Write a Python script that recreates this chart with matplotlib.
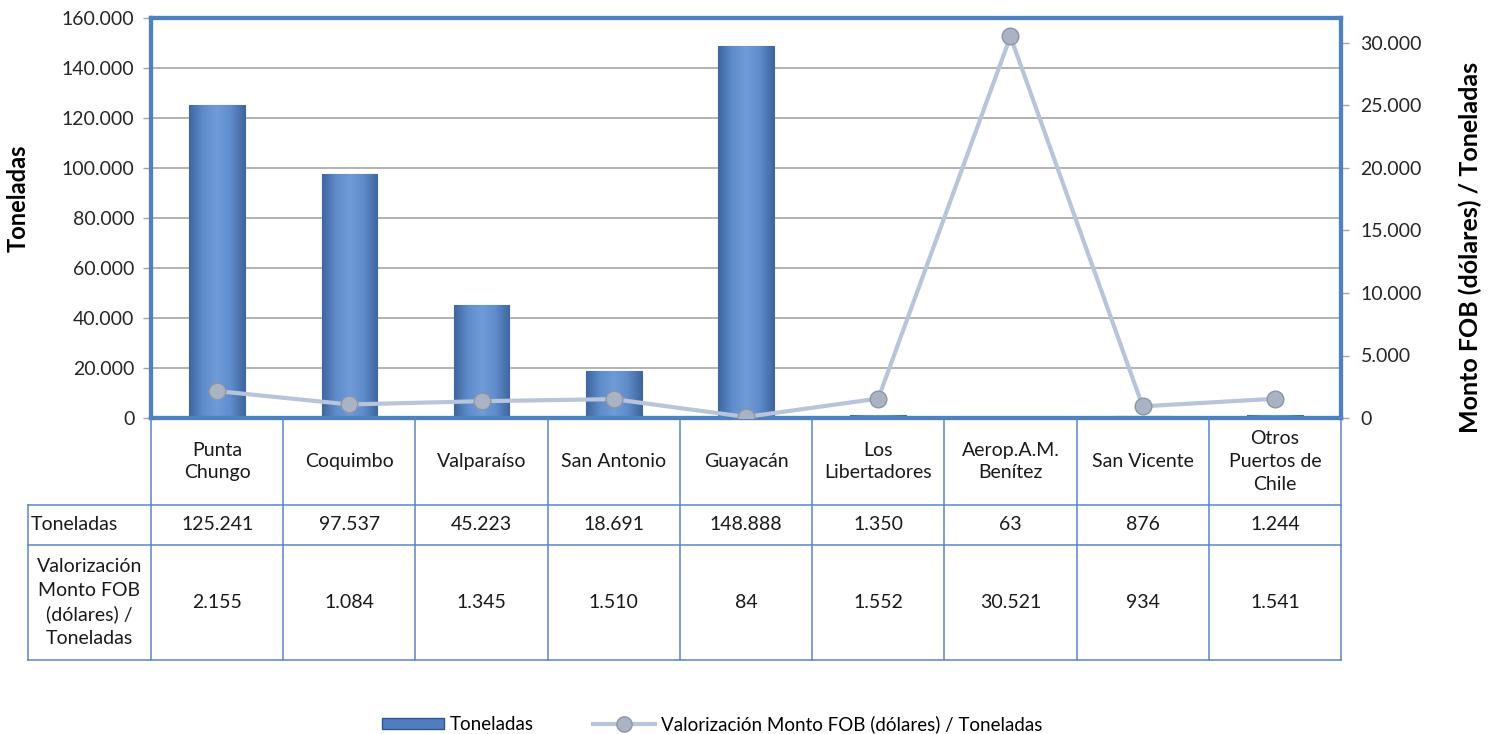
import matplotlib
matplotlib.use("Agg")
import matplotlib.pyplot as plt
import numpy as np
from matplotlib.ticker import FuncFormatter, MultipleLocator
from matplotlib.colors import LinearSegmentedColormap
from matplotlib.lines import Line2D
from matplotlib.patches import Patch

# ---- data ----
categories = ["Punta\nChungo", "Coquimbo", "Valparaíso", "San Antonio", "Guayacán",
              "Los\nLibertadores", "Aerop.A.M.\nBenítez", "San Vicente", "Otros\nPuertos de\nChile"]
toneladas = [125241, 97537, 45223, 18691, 148888, 1350, 63, 876, 1244]
valor_fob = [2155, 1084, 1345, 1510, 84, 1552, 30521, 934, 1541]
row_labels = ["Toneladas", "Valorización\nMonto FOB\n(dólares) /\nToneladas"]
series_bar = "Toneladas"
series_line = "Valorización Monto FOB (dólares) / Toneladas"
left_label = "Toneladas"
right_label = "Monto FOB (dólares) / Toneladas"

plt.rcParams['font.family'] = ['Lato', 'DejaVu Sans']

W, H = 1497, 734
fig = plt.figure(figsize=(W / 100, H / 100), dpi=100)

def px(x0, y0, x1, y1):
    return [x0 / W, 1 - y1 / H, (x1 - x0) / W, (y1 - y0) / H]

BLUE = '#4f81bd'
TXT = '#1a1a1a'
ax = fig.add_axes(px(151, 18, 1341, 418))
n = len(categories)
x = np.arange(n)

def fmt(v, pos=None):
    return f"{int(round(v)):,}".replace(",", ".")

bars = ax.bar(x, toneladas, width=0.42, color='#5a87c6', edgecolor='#3e68a3',
              linewidth=0.8, zorder=2)
cmap = LinearSegmentedColormap.from_list('bev', ['#3f679f', '#5f8ccb', '#6f9bd8', '#5f8ccb', '#3f679f'])
grad = np.linspace(0, 1, 64).reshape(1, -1)
for b in bars:
    x0, y0 = b.get_x(), b.get_y()
    w, h = b.get_width(), b.get_height()
    im = ax.imshow(grad, extent=[x0, x0 + w, y0, y0 + h], aspect='auto', cmap=cmap,
                   zorder=2.1, interpolation='bicubic')
    im.set_clip_path(b)

ax.set_xlim(-0.5, n - 0.5)
ax.set_ylim(0, 160000)
ax.yaxis.set_major_locator(MultipleLocator(20000))
ax.yaxis.set_major_formatter(FuncFormatter(fmt))
ax.set_xticks([])
ax.grid(axis='y', color='#a6a6a6', linewidth=1.2)
ax.set_axisbelow(True)
ax.tick_params(axis='y', labelsize=14, colors='#262626', length=6, width=1, color='#a6a6a6', pad=6)
for s in ax.spines.values():
    s.set_color(BLUE)
    s.set_linewidth(3)
fig.text(18 / W, 1 - 198 / H, left_label, rotation=90, fontsize=17, fontweight='bold',
         ha='center', va='center', color='black')

ax2 = ax.twinx()
ax2.plot(x, valor_fob, color='#b8c4d9', linewidth=3, marker='o', markersize=12,
         markerfacecolor='#aab3c3', markeredgecolor='#8c95a6', markeredgewidth=1, zorder=3)
ax2.set_ylim(0, 32000)
ax2.yaxis.set_major_locator(MultipleLocator(5000))
ax2.yaxis.set_major_formatter(FuncFormatter(fmt))
ax2.tick_params(axis='y', labelsize=14, colors='#262626', length=6, width=1, color='#a6a6a6', pad=8)
for s in ax2.spines.values():
    s.set_color(BLUE)
    s.set_linewidth(3)
fig.text(1470 / W, 1 - 247 / H, right_label, rotation=90, fontsize=18, fontweight='bold',
         ha='center', va='center', color='black')

# ---- table ----
tax = fig.add_axes(px(28, 418, 1341, 662))
lc = -0.5 - (151 - 28) / ((1341 - 151) / n)
tax.set_xlim(lc, n - 0.5)
tax.set_ylim(662 - 418, 0)
tax.axis('off')
LC = '#5b86c4'
rows_y = [505 - 418, 545 - 418, 660 - 418]
for i in range(n + 1):
    tax.plot([i - 0.5, i - 0.5], [0, rows_y[2]], color=LC, lw=1.1, clip_on=False)
tax.plot([lc, lc], [rows_y[0], rows_y[2]], color=LC, lw=1.1, clip_on=False)
for yy in rows_y:
    tax.plot([lc, n - 0.5], [yy, yy], color=LC, lw=1.1, clip_on=False)
for i, c in enumerate(categories):
    tax.text(i, rows_y[0] / 2, c, ha='center', va='center', fontsize=14, color=TXT,
             linespacing=1.4)
    tax.text(i, (rows_y[0] + rows_y[1]) / 2, fmt(toneladas[i]), ha='center', va='center',
             fontsize=14, color=TXT)
    tax.text(i, (rows_y[1] + rows_y[2]) / 2, fmt(valor_fob[i]), ha='center', va='center',
             fontsize=14, color=TXT)
tax.text(lc + 0.02, (rows_y[0] + rows_y[1]) / 2, row_labels[0], ha='left', va='center',
         fontsize=14, color=TXT)
tax.text((lc - 0.5) / 2, (rows_y[1] + rows_y[2]) / 2, row_labels[1], ha='center', va='center',
         fontsize=14, color=TXT, linespacing=1.45)

# ---- legend ----
handles = [Patch(facecolor='#4f7dbd', edgecolor='#2f5590'),
           Line2D([0], [0], color='#b8c4d9', lw=3, marker='o', markersize=11,
                  markerfacecolor='#aab3c3', markeredgecolor='#8c95a6')]
fig.legend(handles, [series_bar, series_line], loc='center', ncol=2, frameon=False,
           bbox_to_anchor=(712 / W, 1 - 724 / H), fontsize=13.5, handlelength=3.3,
           handleheight=0.55, columnspacing=3.2, handletextpad=0.3)

fig.savefig('out.png', dpi=100)
